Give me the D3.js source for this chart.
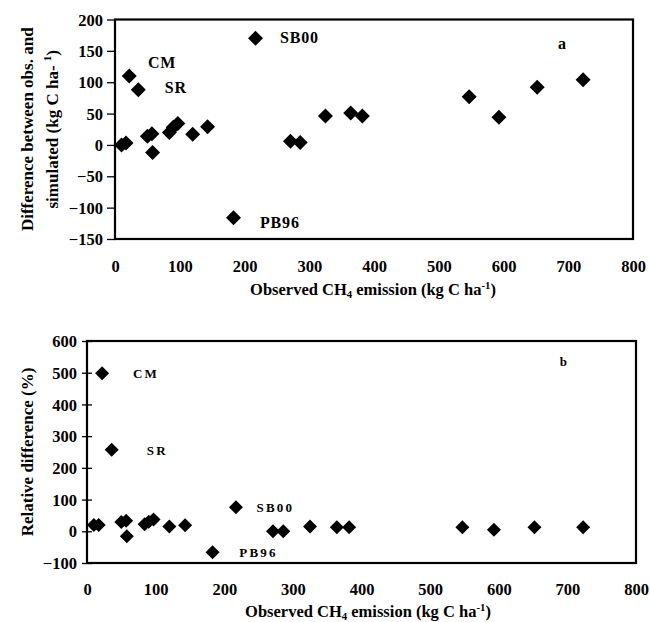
<!DOCTYPE html>
<html>
<head>
<meta charset="utf-8">
<script src="https://cdn.jsdelivr.net/npm/d3@7"></script>
<style>
  body { margin: 0; background: #fff; }
  svg { display: block; }
  text { font-family: "Liberation Serif", "Times New Roman", serif; font-weight: bold; fill: #000; }
</style>
</head>
<body>
<svg id="chart" width="650" height="622"></svg>
<script>
// Observed CH4 emission (kg C ha-1)
const observed = [10, 17, 22, 36, 50, 57, 58, 84, 90, 97, 120, 143, 183, 217, 271, 286, 325, 364, 382, 547, 593, 652, 723];
// Panel a: difference between observed and simulated (kg C ha-1)
const diffA = [0, 3, 110, 88, 14, 18, -12, 20, 28, 34, 17, 29, -116, 170, 6, 4, 46, 51, 46, 77, 44, 92, 104];
// Panel b: relative difference (%)
const relB = [20, 20, 498, 257, 29, 33, -16, 22, 30, 37, 15, 19, -66, 76, 0, 0, 15, 13, 13, 13, 5, 13, 13];

const xTicks = [0, 100, 200, 300, 400, 500, 600, 700, 800];
const yTicksA = [-150, -100, -50, 0, 50, 100, 150, 200];
const yTicksB = [-100, 0, 100, 200, 300, 400, 500, 600];

// site labels: [text, x, y] in data units
const labelsA = [["CM", 51, 123], ["SR", 77, 83], ["SB00", 255, 162], ["PB96", 224, -133], ["a", 684, 153]];
const labelsB = [["CM", 67, 484], ["SR", 87, 241], ["SB00", 247, 62], ["PB96", 222, -80], ["b", 689, 520]];

const svg = d3.select("#chart");

const diamond = {
  draw(ctx, size) {
    const r = Math.sqrt(size / 2);
    ctx.moveTo(0, -r); ctx.lineTo(r, 0); ctx.lineTo(0, r); ctx.lineTo(-r, 0); ctx.closePath();
  }
};

function panel(cfg) {
  const g = svg.append("g");
  const x = d3.scaleLinear().domain([0, 800]).range([cfg.left, cfg.right]);
  const y = d3.scaleLinear().domain(cfg.yDomain).range([cfg.bottom, cfg.top]);

  // y axis
  const ya = g.append("g").attr("transform", `translate(${cfg.left},0)`)
    .call(d3.axisLeft(y).tickValues(cfg.yTicks).tickSizeOuter(0).tickSizeInner(cfg.tickOut).tickPadding(cfg.tickPad).tickFormat(d3.format("d")));
  ya.select(".domain").remove();
  ya.selectAll("line").attr("stroke", "#000").attr("stroke-width", 1.3).attr("x2", -cfg.tickOut).attr("x1", cfg.tickIn);
  ya.selectAll("text").style("font-size", cfg.tickFont + "px").attr("dy", "0.34em");

  // x axis labels (no ticks)
  const xa = g.append("g").attr("transform", `translate(0,${cfg.xLabelY})`)
    .call(d3.axisBottom(x).tickValues(xTicks).tickSize(0).tickPadding(0));
  xa.select(".domain").remove();
  xa.selectAll("text").style("font-size", cfg.tickFont + "px").attr("dy", 0).attr("y", 0);

  // frame
  g.append("rect").attr("x", cfg.left).attr("y", cfg.top)
    .attr("width", cfg.right - cfg.left).attr("height", cfg.bottom - cfg.top)
    .attr("fill", "none").attr("stroke", "#000").attr("stroke-width", 2.2);

  // points
  const sym = d3.symbol().type(diamond).size(cfg.symSize);
  g.append("g").selectAll("path").data(observed.map((o, i) => [o, cfg.values[i]])).join("path")
    .attr("d", sym).attr("fill", "#000")
    .attr("transform", d => `translate(${x(d[0])},${y(d[1])})`);

  // site labels
  g.append("g").selectAll("text").data(cfg.labels).join("text")
    .attr("x", d => x(d[1])).attr("y", d => y(d[2]))
    .style("font-size", cfg.labelFont + "px")
    .style("letter-spacing", cfg.labelSpacing + "px")
    .text(d => d[0]);

  // x title
  const xt = g.append("text").attr("x", cfg.xTitleX).attr("y", cfg.xTitleY)
    .attr("text-anchor", "middle").style("font-size", cfg.titleFont + "px");
  xt.append("tspan").text("Observed CH");
  xt.append("tspan").text("4").attr("dy", 3).style("font-size", (cfg.titleFont * 0.65) + "px");
  xt.append("tspan").text(" emission (kg C ha").attr("dy", -3);
  xt.append("tspan").text("-1").attr("dy", -6).style("font-size", (cfg.titleFont * 0.65) + "px");
  xt.append("tspan").text(")").attr("dy", 6);

  // y title
  const cy = (cfg.top + cfg.bottom) / 2;
  cfg.yTitle(g, cy);
}

panel({
  left: 115, right: 633, top: 19.5, bottom: 239,
  yDomain: [-150, 200], yTicks: yTicksA, values: diffA, labels: labelsA,
  tickOut: 8, tickIn: 0, tickPad: 4, tickFont: 16.5, xLabelY: 272,
  symSize: 2 * 7.5 * 7.5, labelFont: 16, labelSpacing: 0.8,
  titleFont: 16.5, xTitleX: 373, xTitleY: 295,
  yTitle(g, cy) {
    g.append("text").attr("transform", `translate(33,${cy}) rotate(-90)`)
      .attr("text-anchor", "middle").style("font-size", "17px")
      .text("Difference between obs. and");
    const t = g.append("text").attr("transform", `translate(58,${cy}) rotate(-90)`)
      .attr("text-anchor", "middle").style("font-size", "17px");
    t.append("tspan").text("simulated (kg C ha- ");
    t.append("tspan").text("1").attr("dy", -7).style("font-size", "11px");
    t.append("tspan").text(")").attr("dy", 7);
  }
});

panel({
  left: 87, right: 636, top: 341, bottom: 563,
  yDomain: [-100, 600], yTicks: yTicksB, values: relB, labels: labelsB,
  tickOut: 5, tickIn: 5, tickPad: 5, tickFont: 16.5, xLabelY: 595,
  symSize: 2 * 7 * 7, labelFont: 13, labelSpacing: 2.2,
  titleFont: 16.5, xTitleX: 368, xTitleY: 617,
  yTitle(g, cy) {
    g.append("text").attr("transform", `translate(33,${cy}) rotate(-90)`)
      .attr("text-anchor", "middle").style("font-size", "17px")
      .text("Relative difference (%)");
  }
});
</script>
</body>
</html>
